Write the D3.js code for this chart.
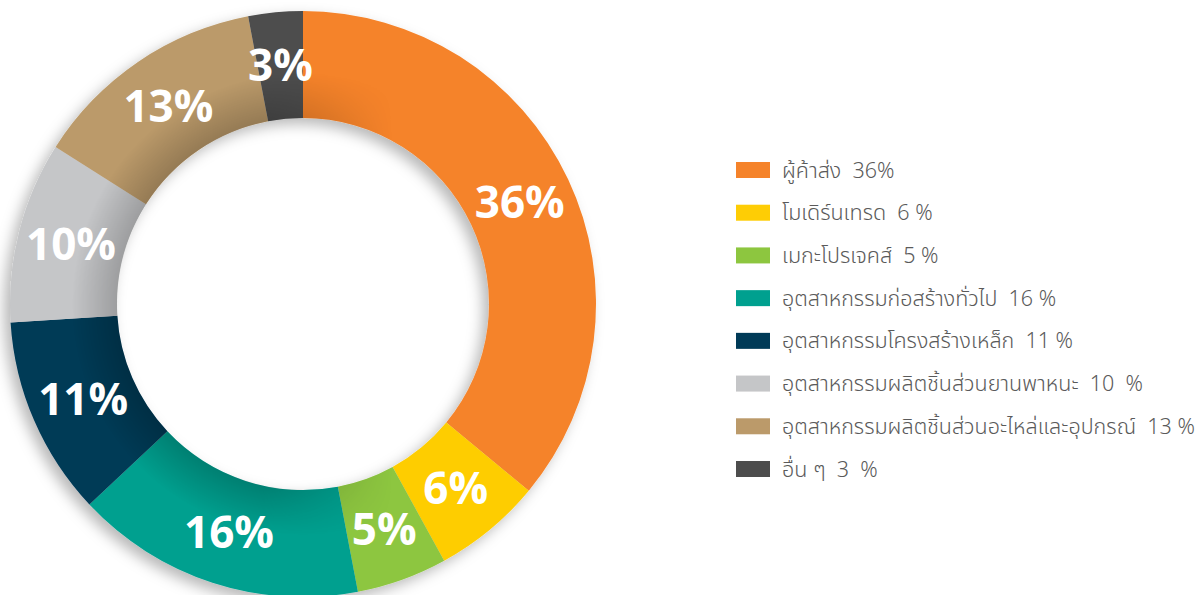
<!DOCTYPE html>
<html>
<head>
<meta charset="utf-8">
<script src="https://cdn.jsdelivr.net/npm/d3@7/dist/d3.min.js"></script>
<style>
  body { margin: 0; background: #fff; }
  .legend text { font-family: "Noto Sans Thai", "Noto Sans", sans-serif; font-size: 21.5px; font-weight: 300; fill: #5a5a5a; white-space: pre; }
  .lbl { font-family: "Open Sans", sans-serif; font-weight: 700; font-size: 44px; fill: #fff; }
</style>
</head>
<body>
<svg class="chart" width="1202" height="595"></svg>
<script>
// segments, clockwise from 12 o'clock
var categories = [
  "ผู้ค้าส่ง",
  "โมเดิร์นเทรด",
  "เมกะโปรเจคส์",
  "อุตสาหกรรมก่อสร้างทั่วไป",
  "อุตสาหกรรมโครงสร้างเหล็ก",
  "อุตสาหกรรมผลิตชิ้นส่วนยานพาหนะ",
  "อุตสาหกรรมผลิตชิ้นส่วนอะไหล่และอุปกรณ์",
  "อื่น ๆ"
];
var shares = [36, 6, 5, 16, 11, 10, 13, 3];
var legendTags = ["  36%", "  6 %", "  5 %", "  16 %", "  11 %", "  10  %", "  13 %", "  3  %"];
var colors = ["#f5832a", "#fecd05", "#8dc63f", "#00a08f", "#003a57", "#c5c6c8", "#bb9a6a", "#4d4d4d"];

var vis = d3.select(".chart"),
    CX = 303, CY = 304,
    R_OUT = 293, R_IN = 186;

var defs = vis.append("defs");

var shadow = defs.append("filter").attr("id", "drop")
    .attr("x", "-20%").attr("y", "-20%").attr("width", "140%").attr("height", "140%");
shadow.append("feDropShadow")
    .attr("dx", -6).attr("dy", 6).attr("stdDeviation", 7)
    .attr("flood-color", "#000").attr("flood-opacity", 0.28);

var inner = defs.append("radialGradient").attr("id", "innerShade")
    .attr("gradientUnits", "userSpaceOnUse")
    .attr("cx", 0).attr("cy", 0).attr("r", R_OUT);
inner.append("stop").attr("offset", R_IN / R_OUT).attr("stop-color", "#000").attr("stop-opacity", 0.2);
inner.append("stop").attr("offset", (R_IN + 45) / R_OUT).attr("stop-color", "#000").attr("stop-opacity", 0);

var fade = defs.append("linearGradient").attr("id", "fade")
    .attr("gradientUnits", "userSpaceOnUse")
    .attr("x1", -40).attr("y1", 0).attr("x2", 90).attr("y2", 0);
fade.append("stop").attr("offset", 0).attr("stop-color", "#fff");
fade.append("stop").attr("offset", 1).attr("stop-color", "#000");
defs.append("mask").attr("id", "fadeMask")
    .attr("maskUnits", "userSpaceOnUse")
    .attr("x", -R_OUT).attr("y", -R_OUT).attr("width", R_OUT * 2).attr("height", R_OUT * 2)
  .append("rect")
    .attr("x", -R_OUT).attr("y", -R_OUT).attr("width", R_OUT * 2).attr("height", R_OUT * 2)
    .attr("fill", "url(#fade)");

var pie = d3.pie().sort(null).value(function(d) { return d; });
var arcGen = d3.arc().innerRadius(R_IN).outerRadius(R_OUT);
var arcs = pie(shares);

var g = vis.append("g").attr("transform", "translate(" + CX + "," + CY + ")");

var ring = g.append("g").attr("filter", "url(#drop)");
ring.selectAll("path.slice")
    .data(arcs)
  .enter().append("path")
    .attr("class", "slice")
    .attr("d", arcGen)
    .attr("fill", function(d, i) { return colors[i]; });

// soft inner shading on the left side of the ring
g.append("path")
    .attr("d", d3.arc().innerRadius(R_IN).outerRadius(R_OUT).startAngle(0).endAngle(2 * Math.PI)())
    .attr("fill", "url(#innerShade)")
    .attr("mask", "url(#fadeMask)");

g.selectAll("text.lbl")
    .data(arcs)
  .enter().append("text")
    .attr("class", "lbl")
    .attr("transform", function(d) { return "translate(" + arcGen.centroid(d) + ")"; })
    .attr("text-anchor", "middle")
    .attr("dy", "0.36em")
    .text(function(d) { return d.data + "%"; });

// legend
var rowY = d3.scalePoint().domain(d3.range(categories.length)).range([170, 469]);
var legend = vis.append("g").attr("class", "legend");
var rows = legend.selectAll("g")
    .data(categories)
  .enter().append("g")
    .attr("transform", function(d, i) { return "translate(736," + rowY(i) + ")"; });
rows.append("rect")
    .attr("x", 0).attr("y", -8).attr("width", 34).attr("height", 16)
    .attr("fill", function(d, i) { return colors[i]; });
rows.append("text")
    .attr("x", 46).attr("dy", "0.35em")
    .text(function(d, i) { return d + legendTags[i]; });
</script>
</body>
</html>
